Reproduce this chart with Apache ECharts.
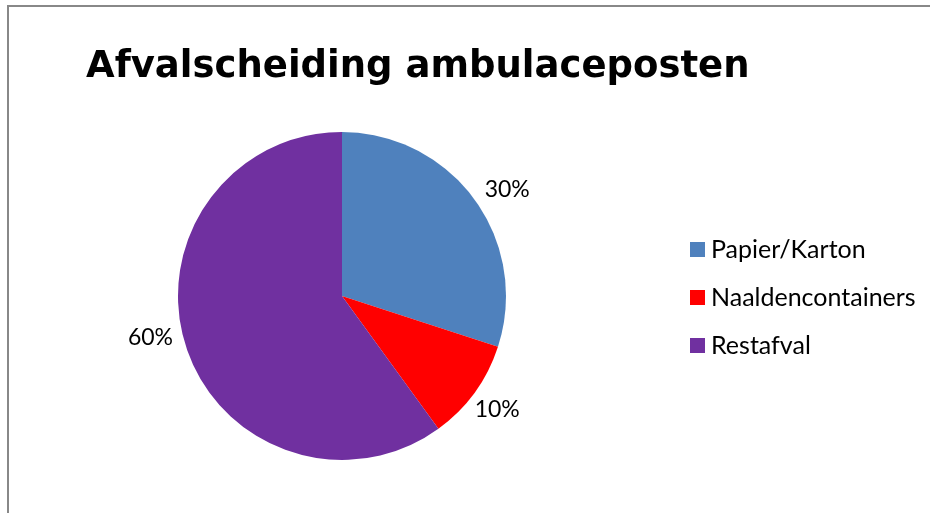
<!DOCTYPE html>
<html>
<head>
<meta charset="utf-8">
<script src="https://cdn.jsdelivr.net/npm/echarts@6/dist/echarts.min.js"></script>
<style>
html,body{margin:0;padding:0;background:#fff;}
#chart{width:930px;height:513px;}
</style>
</head>
<body>
<div id="chart"></div>
<script>
var titleText = 'Afvalscheiding ambulaceposten';
var categories = ['Papier/Karton', 'Naaldencontainers', 'Restafval'];
var values = [30, 10, 60];
var colors = ['#4F81BD', '#FF0000', '#7030A0'];
var labelShift = [[10, -10], [0, 17], [-13, -9]];

var chart = echarts.init(document.getElementById('chart'), null, {renderer: 'canvas'});
var labelFont = 'Lato';
chart.setOption({
  animation: false,
  backgroundColor: '#ffffff',
  title: {
    text: titleText,
    left: 86,
    top: 49,
    padding: 0,
    textStyle: {
      fontFamily: 'DejaVu Sans',
      fontWeight: 'bold',
      fontSize: 37,
      color: '#000'
    }
  },
  legend: {
    orient: 'vertical',
    left: 690,
    top: 237,
    padding: 0,
    itemWidth: 15,
    itemHeight: 15,
    itemGap: 23,
    icon: 'rect',
    data: categories,
    textStyle: {
      fontFamily: labelFont,
      fontSize: 25,
      color: '#000',
      padding: [0, 0, 0, 1]
    }
  },
  graphic: [{
    type: 'rect',
    silent: true,
    shape: {x: 8, y: 6, width: 1000, height: 700},
    style: {fill: 'none', stroke: '#888888', lineWidth: 2}
  }],
  series: [{
    type: 'pie',
    center: [342, 296],
    radius: 164,
    startAngle: 90,
    clockwise: true,
    avoidLabelOverlap: false,
    data: categories.map(function (c, i) {
      return {name: c, value: values[i], itemStyle: {color: colors[i]}};
    }),
    label: {
      show: true,
      position: 'outside',
      formatter: function (p) { return p.value + '%'; },
      fontFamily: labelFont,
      fontSize: 23,
      color: '#000',
      distanceToLabelLine: 0
    },
    labelLine: {show: false, length: 0, length2: 0},
    labelLayout: function (p) {
      return {dx: labelShift[p.dataIndex][0], dy: labelShift[p.dataIndex][1]};
    },
    emphasis: {disabled: true}
  }]
});
</script>
</body>
</html>
